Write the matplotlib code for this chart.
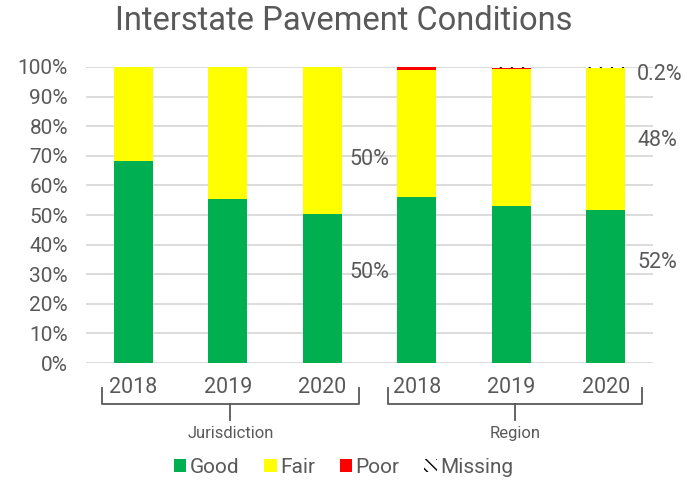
import numpy as np
import matplotlib
matplotlib.use("Agg")
import matplotlib.pyplot as plt
from matplotlib.patches import Patch

plt.rcParams['font.family'] = ['Roboto', 'DejaVu Sans']

# data (percent)
years = ['2018', '2019', '2020', '2018', '2019', '2020']
groups = ['Jurisdiction', 'Region']
good = [68.2, 55.4, 50.2, 56.1, 53.1, 51.8]
fair = [31.8, 44.6, 49.8, 42.8, 46.1, 47.7]
poor = [0.0, 0.0, 0.0, 1.1, 0.3, 0.3]
missing = [0.0, 0.0, 0.0, 0.0, 0.5, 0.2]

label_texts = ['50%', '50%', '48%', '52%', '0.2%']
label_x = [2.29, 2.29, 5.34, 5.34, 5.33]
label_y = [68.6, 30.7, 75.0, 33.8, 97.6]

GREY = '#595959'

fig = plt.figure(figsize=(6.87, 4.83), dpi=100)
ax = fig.add_axes([0.1252, 0.2484, 0.8253, 0.6129])

x = np.arange(len(years))
w = 0.41
good = np.array(good)
fair = np.array(fair)
poor = np.array(poor)
missing = np.array(missing)

ax.bar(x, good, w, color='#00b050', zorder=3)
ax.bar(x, fair, w, bottom=good, color='#ffff00', zorder=3)
ax.bar(x, poor, w, bottom=good + fair, color='#ff0000', zorder=3)
ax.bar(x, missing, w, bottom=good + fair + poor, color='white',
       edgecolor='black', hatch='\\\\\\', linewidth=0, zorder=3)

ax.set_xlim(-0.5, 5.5)
ax.set_ylim(0, 100)
ax.set_yticks(np.arange(0, 101, 10))
ax.set_yticklabels([f'{v}%' for v in range(0, 101, 10)])
ax.set_xticks(x)
ax.set_xticklabels(years)
ax.tick_params(axis='y', length=0, pad=13, labelsize=15, labelcolor=GREY)
ax.tick_params(axis='x', length=0, pad=10, labelsize=15.5, labelcolor=GREY)
ax.grid(axis='y', color='#d9d9d9', linewidth=1.3, zorder=0)
for s in ax.spines.values():
    s.set_visible(False)

# group brackets under the year labels
tr = ax.get_xaxis_transform()
y_top, y_bar, y_drop = -0.084, -0.139, -0.193
for (x0, x1), name in zip([(-0.331, 2.389), (2.696, 5.383)], groups):
    xm = (x0 + x1) / 2
    ax.plot([x0, x0, x1, x1], [y_top, y_bar, y_bar, y_top], color=GREY,
            linewidth=1.3, transform=tr, clip_on=False)
    ax.plot([xm, xm], [y_bar, y_drop], color=GREY, linewidth=1.3,
            transform=tr, clip_on=False)
    ax.text(xm, -0.238, name, transform=tr, ha='center', va='center',
            fontsize=12, color=GREY)

for t, lx, ly in zip(label_texts, label_x, label_y):
    ax.text(lx, ly, t, ha='left', va='center', fontsize=15.5, color=GREY)

fig.suptitle('Interstate Pavement Conditions', y=0.99, fontsize=23.5,
             color=GREY)

handles = [Patch(facecolor='#00b050'), Patch(facecolor='#ffff00'),
           Patch(facecolor='#ff0000'),
           Patch(facecolor='white', edgecolor='black', hatch='\\\\\\', linewidth=0)]
fig.legend(handles, ['Good', 'Fair', 'Poor', 'Missing'], loc='center',
           bbox_to_anchor=(0.5, 0.033), ncol=4, frameon=False, fontsize=15,
           labelcolor=GREY, handlelength=0.6, handleheight=0.6,
           handletextpad=0.15, columnspacing=1.2)

fig.savefig('out.png', dpi=100)
